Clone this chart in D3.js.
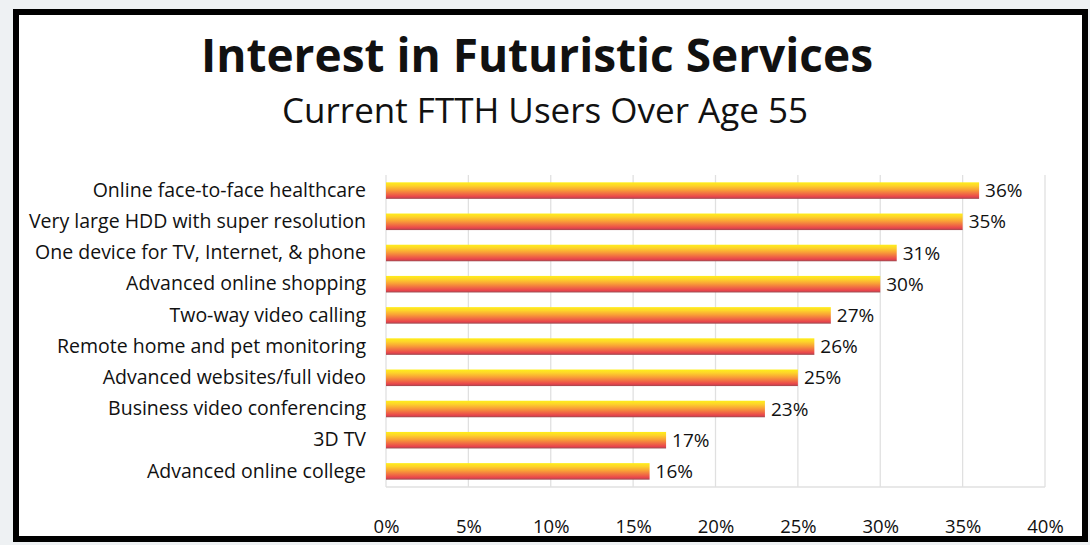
<!DOCTYPE html>
<html>
<head>
<meta charset="utf-8">
<script src="https://cdn.jsdelivr.net/npm/d3@7"></script>
<style>
    body { margin: 0; background: #eef1f3; }
    svg { display: block; }
    text { font-family: "Open Sans", "Noto Sans", sans-serif; fill: #111; }
</style>
</head>
<body>
<svg id="chart"></svg>
<script>
// chart data
const categories = [
    "Online face-to-face healthcare",
    "Very large HDD with super resolution",
    "One device for TV, Internet, & phone",
    "Advanced online shopping",
    "Two-way video calling",
    "Remote home and pet monitoring",
    "Advanced websites/full video",
    "Business video conferencing",
    "3D TV",
    "Advanced online college"
];
const values = [36, 35, 31, 30, 27, 26, 25, 23, 17, 16];
const ticks = [0, 5, 10, 15, 20, 25, 30, 35, 40];
const title = "Interest in Futuristic Services";
const subtitle = "Current FTTH Users Over Age 55";

// canvas
const canvWidth = 1090;
const canvHeight = 545;
const margin = { top: 175, right: 45, bottom: 58, left: 386 };
const width = canvWidth - margin.left - margin.right;
const height = canvHeight - margin.top - margin.bottom;

const svg = d3.select("#chart")
    .attr("width", canvWidth)
    .attr("height", canvHeight);

// bar gradient (yellow top to red bottom)
const grad = svg.append("defs").append("linearGradient")
    .attr("id", "barGrad")
    .attr("x1", 0).attr("y1", 0).attr("x2", 0).attr("y2", 1);
[["0%", "#ffee1a"], ["20%", "#fdd42a"], ["45%", "#f9a236"], ["70%", "#f06a44"], ["88%", "#e8444c"], ["100%", "#9c4a50"]]
    .forEach(function (s) {
        grad.append("stop").attr("offset", s[0]).attr("stop-color", s[1]);
    });

// white card with black frame
svg.append("rect")
    .attr("x", 16).attr("y", 12)
    .attr("width", 1069).attr("height", 527)
    .attr("fill", "#fff")
    .attr("stroke", "#000")
    .attr("stroke-width", 6);

// titles
svg.append("text")
    .attr("x", 537).attr("y", 72)
    .attr("text-anchor", "middle")
    .style("font-size", "46px")
    .style("font-weight", "bold")
    .text(title);

svg.append("text")
    .attr("x", 545).attr("y", 123)
    .attr("text-anchor", "middle")
    .style("font-size", "35px")
    .text(subtitle);

const g = svg.append("g")
    .attr("transform", "translate(" + margin.left + "," + margin.top + ")");

// scales
const x = d3.scaleLinear().domain([0, 40]).range([0, width]);
const y = d3.scaleBand().domain(categories).range([0, height])
    .paddingInner(0.47)
    .paddingOuter(0.235);

// grid lines
g.selectAll(".grid")
    .data(ticks)
    .enter().append("line")
    .attr("x1", function (d) { return x(d); })
    .attr("x2", function (d) { return x(d); })
    .attr("y1", 0)
    .attr("y2", height)
    .attr("stroke", "#e0e0e0")
    .attr("stroke-width", 1.3);

g.append("line")
    .attr("x1", 0).attr("x2", width)
    .attr("y1", height).attr("y2", height)
    .attr("stroke", "#e0e0e0")
    .attr("stroke-width", 1.3);

// x axis labels
const xAxis = g.append("g")
    .attr("transform", "translate(0," + (height + 33) + ")")
    .call(d3.axisBottom(x).tickValues(ticks).tickSize(0).tickPadding(0)
        .tickFormat(function (d) { return d + "%"; }));
xAxis.select(".domain").remove();
xAxis.selectAll("text")
    .style("font-size", "18.5px")
    .style("font-family", "'Open Sans', sans-serif")
    .attr("fill", "#111");

// y axis labels
const yAxis = g.append("g")
    .attr("transform", "translate(-20,0)")
    .call(d3.axisLeft(y).tickSize(0).tickPadding(0));
yAxis.select(".domain").remove();
yAxis.selectAll("text")
    .style("font-size", "19.5px")
    .style("font-family", "'Open Sans', sans-serif")
    .attr("fill", "#111");

// bars
g.selectAll(".bar")
    .data(values)
    .enter().append("rect")
    .attr("class", "bar")
    .attr("x", 0)
    .attr("y", function (d, i) { return y(categories[i]); })
    .attr("width", function (d) { return x(d); })
    .attr("height", y.bandwidth())
    .attr("fill", "url(#barGrad)");

// value labels
g.selectAll(".val")
    .data(values)
    .enter().append("text")
    .attr("x", function (d) { return x(d) + 6; })
    .attr("y", function (d, i) { return y(categories[i]) + y.bandwidth() / 2; })
    .attr("dy", "0.35em")
    .style("font-size", "19px")
    .text(function (d) { return d + "%"; });
</script>
</body>
</html>
